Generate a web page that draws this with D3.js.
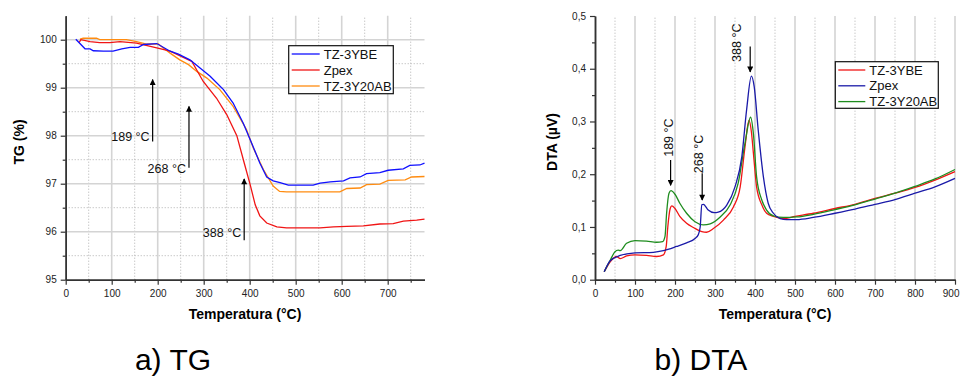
<!DOCTYPE html>
<html>
<head>
<meta charset="utf-8">
<script src="https://cdn.jsdelivr.net/npm/d3@7"></script>
<style>
  body { margin: 0; background: #fff; }
  svg { display: block; font-family: Arial, 'Liberation Sans', sans-serif; }
</style>
</head>
<body>
<svg id="chart" width="960" height="378"></svg>
<script>
// ---- a) TG data (mass %, vs temperature °C)
const tgNames = ['TZ-3YBE', 'Zpex', 'TZ-3Y20AB'];
const tgYbeT = [22, 42, 53, 60, 82, 103, 122, 140, 158, 169, 198, 227, 245, 270, 292, 314, 343, 364, 386, 408, 422, 437, 451, 466, 484, 502, 538, 553, 575, 604, 618, 640, 654, 683, 701, 734, 748, 770, 780];
const tgYbeV = [100.01, 99.81, 99.81, 99.77, 99.76, 99.76, 99.81, 99.84, 99.84, 99.9, 99.92, 99.76, 99.7, 99.58, 99.41, 99.24, 98.96, 98.68, 98.26, 97.76, 97.43, 97.14, 97.06, 97.02, 96.97, 96.97, 96.97, 97.01, 97.04, 97.06, 97.12, 97.14, 97.21, 97.23, 97.28, 97.31, 97.38, 97.39, 97.43];
const tgZpexT = [29, 33, 53, 74, 96, 118, 154, 198, 227, 274, 299, 328, 350, 372, 389, 401, 412, 422, 437, 459, 480, 509, 553, 582, 611, 647, 683, 712, 734, 763, 780];
const tgZpexV = [99.94, 100.0, 99.96, 99.94, 99.94, 99.96, 99.93, 99.83, 99.76, 99.55, 99.13, 98.78, 98.44, 98.0, 97.4, 96.98, 96.56, 96.33, 96.18, 96.1, 96.08, 96.08, 96.08, 96.1, 96.11, 96.12, 96.16, 96.17, 96.22, 96.24, 96.26];
const tgAbT = [31, 38, 67, 74, 132, 154, 176, 201, 227, 248, 267, 285, 307, 335, 364, 393, 408, 430, 451, 465, 480, 509, 596, 611, 640, 654, 683, 701, 738, 752, 780];
const tgAbV = [100.01, 100.03, 100.03, 100.0, 100.0, 99.96, 99.91, 99.91, 99.72, 99.58, 99.48, 99.34, 99.2, 98.96, 98.61, 98.13, 97.74, 97.29, 96.95, 96.84, 96.83, 96.83, 96.83, 96.9, 96.91, 96.98, 96.99, 97.07, 97.08, 97.14, 97.15];
const tgYTicks = [95, 96, 97, 98, 99, 100];
const tgXTicks = [0, 100, 200, 300, 400, 500, 600, 700];
// arrows: temperature, arrow tail, arrow head, label baseline (TG %)
const tgMarkT = [189, 268, 388];
const tgMarkFrom = [97.88, 97.33, 95.82];
const tgMarkTo = [99.17, 98.61, 97.1];
const tgMarkLabelV = [97.88, 97.22, 95.89];

// ---- b) DTA data (µV, vs temperature °C)
const dtaNames = ['TZ-3YBE', 'Zpex', 'TZ-3Y20AB'];
const dtaYbeT = [23, 38, 54, 63, 79, 100, 129, 154, 171, 178, 182, 188, 192, 200, 212, 229, 246, 267, 279, 296, 321, 346, 363, 375, 385, 391, 396, 404, 417, 429, 446, 471, 500, 546, 600, 650, 700, 750, 800, 850, 900];
const dtaYbeV = [0.015, 0.034, 0.044, 0.040, 0.045, 0.047, 0.046, 0.044, 0.047, 0.063, 0.10, 0.135, 0.14, 0.135, 0.12, 0.107, 0.099, 0.091, 0.09, 0.097, 0.113, 0.138, 0.176, 0.252, 0.302, 0.28, 0.24, 0.176, 0.142, 0.126, 0.12, 0.116, 0.12, 0.126, 0.135, 0.143, 0.154, 0.164, 0.175, 0.189, 0.205];
const dtaZpexT = [23, 38, 63, 100, 146, 171, 204, 229, 250, 258, 263, 267, 271, 283, 298, 308, 329, 350, 367, 379, 391, 398, 408, 421, 433, 446, 463, 479, 504, 546, 600, 650, 700, 750, 800, 850, 900];
const dtaZpexV = [0.015, 0.036, 0.046, 0.051, 0.052, 0.055, 0.063, 0.070, 0.078, 0.085, 0.10, 0.142, 0.143, 0.132, 0.127, 0.128, 0.141, 0.176, 0.233, 0.322, 0.386, 0.366, 0.284, 0.195, 0.145, 0.126, 0.116, 0.114, 0.114, 0.118, 0.126, 0.134, 0.143, 0.152, 0.164, 0.176, 0.192];
const dtaAbT = [23, 38, 50, 58, 63, 79, 100, 129, 154, 169, 175, 179, 185, 190, 200, 212, 229, 250, 271, 288, 313, 338, 358, 375, 389, 396, 404, 417, 429, 446, 471, 504, 546, 600, 650, 700, 750, 800, 850, 900];
const dtaAbV = [0.015, 0.037, 0.053, 0.056, 0.055, 0.069, 0.074, 0.073, 0.071, 0.072, 0.082, 0.126, 0.164, 0.169, 0.162, 0.145, 0.126, 0.11, 0.104, 0.106, 0.119, 0.142, 0.183, 0.259, 0.308, 0.277, 0.195, 0.151, 0.132, 0.121, 0.118, 0.119, 0.124, 0.133, 0.142, 0.153, 0.164, 0.177, 0.191, 0.209];
const dtaYTicks = [0, 0.1, 0.2, 0.3, 0.4, 0.5];
const dtaXTicks = [0, 100, 200, 300, 400, 500, 600, 700, 800, 900];
// arrows: temperature, arrow tail, arrow head; label start point (temp, µV)
const dtaMarkT = [189, 268, 388];
const dtaMarkFrom = [0.227, 0.202, 0.442];
const dtaMarkTo = [0.179, 0.151, 0.394];
const dtaMarkLabelT = [194, 269, 364];
const dtaMarkLabelV = [0.233, 0.202, 0.413];

const tgColors = ['#1010ff', '#f01515', '#ff8c10'];
const dtaColors = ['#f01515', '#1a1aa8', '#1e8c1e'];
const axisColor = '#333';

const svg = d3.select('#chart');
svg.append('rect').attr('width', 960).attr('height', 378).attr('fill', '#fff');

const defs = svg.append('defs');
defs.append('marker')
  .attr('id', 'arrow')
  .attr('viewBox', '0 0 10 10')
  .attr('refX', 9).attr('refY', 5)
  .attr('markerUnits', 'userSpaceOnUse')
  .attr('markerWidth', 8).attr('markerHeight', 6)
  .attr('orient', 'auto')
  .append('path')
  .attr('d', 'M0,0L10,5L0,10Z')
  .attr('fill', '#000');

function pairs(ts, vs) {
  return ts.map((t, i) => ({ t: t, v: vs[i] }));
}

function grid(g, x, y, xs, ys, solid) {
  g.selectAll(null)
    .data(xs)
    .join('line')
    .attr('x1', (d) => x(d)).attr('x2', (d) => x(d))
    .attr('y1', y.range()[0]).attr('y2', y.range()[1])
    .attr('stroke', solid ? '#d4d4d4' : '#b0b0b0')
    .attr('stroke-width', solid ? 1.6 : 1)
    .attr('stroke-dasharray', solid ? null : '1,2');
  g.selectAll(null)
    .data(ys)
    .join('line')
    .attr('x1', x.range()[0]).attr('x2', x.range()[1])
    .attr('y1', (d) => y(d)).attr('y2', (d) => y(d))
    .attr('stroke', solid ? '#d4d4d4' : '#b0b0b0')
    .attr('stroke-width', solid ? 1.6 : 1)
    .attr('stroke-dasharray', solid ? null : '1,2');
}

function axes(x, y, xTicks, xMinor, yTicks, yMinor, yFmt) {
  const h = y.range()[0], l = x.range()[0];
  const g = svg.append('g');
  g.append('g')
    .attr('transform', `translate(0,${h})`)
    .call(d3.axisBottom(x).tickValues(xMinor).tickSize(3).tickFormat('').tickSizeOuter(0));
  const xa = g.append('g')
    .attr('transform', `translate(0,${h})`)
    .call(d3.axisBottom(x).tickValues(xTicks).tickSize(5).tickPadding(5).tickSizeOuter(0));
  g.append('g')
    .attr('transform', `translate(${l},0)`)
    .call(d3.axisLeft(y).tickValues(yMinor).tickSize(3).tickFormat('').tickSizeOuter(0));
  g.append('g')
    .attr('transform', `translate(${l},0)`)
    .call(d3.axisLeft(y).tickValues(yTicks).tickSize(5).tickPadding(4).tickSizeOuter(0).tickFormat(yFmt));
  g.selectAll('.domain').attr('stroke', axisColor).attr('stroke-width', 1.5);
  g.selectAll('.tick line').attr('stroke', axisColor).attr('stroke-width', 1.2);
  g.selectAll('.tick text').attr('fill', '#222').style('font-size', '10px').style('font-family', 'Arial, Liberation Sans, sans-serif');
  return xa;
}

function legend(x0, y0, w, h, names, colors, lineLen, rowH) {
  const g = svg.append('g').attr('transform', `translate(${x0},${y0})`);
  g.append('rect')
    .attr('width', w).attr('height', h)
    .attr('fill', '#fff').attr('stroke', '#111').attr('stroke-width', 1.2);
  const rows = g.selectAll('g.row')
    .data(names)
    .join('g')
    .attr('class', 'row')
    .attr('transform', (d, i) => `translate(0,${8.3 + i * rowH})`);
  rows.append('line')
    .attr('x1', 3).attr('x2', 3 + lineLen)
    .attr('stroke', (d, i) => colors[i]).attr('stroke-width', 1.3);
  rows.append('text')
    .attr('x', lineLen + 7).attr('dy', '0.36em')
    .style('font-size', '13px').attr('fill', '#111')
    .text((d) => d);
}

// ================= a) TG
const tgX = d3.scaleLinear().domain([0, 780]).range([65.7, 424.5]);
const tgY = d3.scaleLinear().domain([95, 100.5]).range([279.7, 15.7]);

grid(svg.append('g'), tgX, tgY, d3.range(50, 780, 100), d3.range(95.5, 100.5, 1), false);
grid(svg.append('g'), tgX, tgY, d3.range(100, 780, 100), d3.range(96, 100.5, 1), true);

const tgLine = d3.line().x((d) => tgX(d.t)).y((d) => tgY(d.v)).curve(d3.curveLinear);
const tgSeries = [pairs(tgYbeT, tgYbeV), pairs(tgZpexT, tgZpexV), pairs(tgAbT, tgAbV)];
// orange under blue, red on top of orange
[2, 1, 0].forEach((i) => {
  svg.append('path')
    .datum(tgSeries[i])
    .attr('d', tgLine)
    .attr('fill', 'none')
    .attr('stroke', tgColors[i])
    .attr('stroke-width', 1.3);
});

axes(tgX, tgY, tgXTicks, d3.range(50, 780, 100), tgYTicks, d3.range(95.5, 100.5, 1), d3.format('d'));

tgMarkT.forEach((t, i) => {
  svg.append('line')
    .attr('x1', tgX(t)).attr('x2', tgX(t))
    .attr('y1', tgY(tgMarkFrom[i])).attr('y2', tgY(tgMarkTo[i]))
    .attr('stroke', '#000').attr('stroke-width', 1.2)
    .attr('marker-end', 'url(#arrow)');
  svg.append('text')
    .attr('x', tgX(t) - 3).attr('y', tgY(tgMarkLabelV[i]))
    .attr('text-anchor', 'end')
    .style('font-size', '12.5px').attr('fill', '#111')
    .text(t + ' °C');
});

legend(288.7, 45.7, 104.6, 48, tgNames, tgColors, 28, 16);

svg.append('text')
  .attr('transform', `translate(24,142) rotate(-90)`)
  .attr('text-anchor', 'middle')
  .style('font-size', '14px').style('font-weight', 'bold')
  .text('TG (%)');
svg.append('text')
  .attr('x', 245).attr('y', 319)
  .attr('text-anchor', 'middle')
  .style('font-size', '14px').style('font-weight', 'bold')
  .text('Temperatura (°C)');
svg.append('text')
  .attr('x', 173).attr('y', 370)
  .attr('text-anchor', 'middle')
  .style('font-size', '30px')
  .text('a) TG');

// ================= b) DTA
const dtaX = d3.scaleLinear().domain([0, 900]).range([595, 955]);
const dtaY = d3.scaleLinear().domain([0, 0.5]).range([279.7, 16]);

grid(svg.append('g'), dtaX, dtaY, d3.range(50, 900, 100), [], false);
grid(svg.append('g'), dtaX, dtaY, d3.range(100, 901, 100), [], true);

const dtaLine = d3.line().x((d) => dtaX(d.t)).y((d) => dtaY(d.v)).curve(d3.curveMonotoneX);
const dtaSeries = [pairs(dtaYbeT, dtaYbeV), pairs(dtaZpexT, dtaZpexV), pairs(dtaAbT, dtaAbV)];
[0, 2, 1].forEach((i) => {
  svg.append('path')
    .datum(dtaSeries[i])
    .attr('d', dtaLine)
    .attr('fill', 'none')
    .attr('stroke', dtaColors[i])
    .attr('stroke-width', 1.3);
});

const dtaXAxis = axes(dtaX, dtaY, dtaXTicks, d3.range(50, 900, 100), dtaYTicks, d3.range(0.05, 0.5, 0.1),
  (d) => d3.format('.1f')(d).replace('.', ','));
// last tick label sits at the window edge; keep it inside
dtaXAxis.selectAll('.tick text')
  .filter((d) => d === 900)
  .attr('text-anchor', 'end')
  .attr('dx', 4);

dtaMarkT.forEach((t, i) => {
  svg.append('line')
    .attr('x1', dtaX(t)).attr('x2', dtaX(t))
    .attr('y1', dtaY(dtaMarkFrom[i])).attr('y2', dtaY(dtaMarkTo[i]))
    .attr('stroke', '#000').attr('stroke-width', 1.2)
    .attr('marker-end', 'url(#arrow)');
  svg.append('text')
    .attr('transform', `translate(${dtaX(dtaMarkLabelT[i])},${dtaY(dtaMarkLabelV[i])}) rotate(-90)`)
    .attr('text-anchor', 'start')
    .style('font-size', '12.5px').attr('fill', '#111')
    .text(t + ' °C');
});

legend(835.3, 61.7, 103, 46.6, dtaNames, dtaColors, 27, 15.8);

svg.append('text')
  .attr('transform', `translate(557,142) rotate(-90)`)
  .attr('text-anchor', 'middle')
  .style('font-size', '14px').style('font-weight', 'bold')
  .text('DTA (µV)');
svg.append('text')
  .attr('x', 775).attr('y', 319)
  .attr('text-anchor', 'middle')
  .style('font-size', '14px').style('font-weight', 'bold')
  .text('Temperatura (°C)');
svg.append('text')
  .attr('x', 701).attr('y', 370)
  .attr('text-anchor', 'middle')
  .style('font-size', '30px')
  .text('b) DTA');
</script>
</body>
</html>
